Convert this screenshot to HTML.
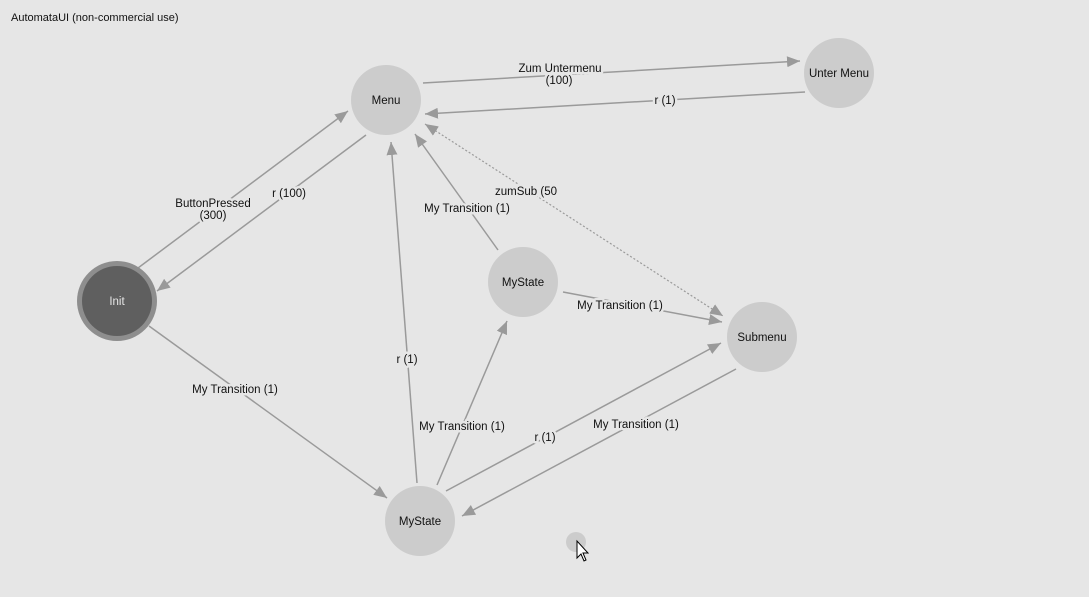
<!DOCTYPE html>
<html><head><meta charset="utf-8"><style>
html,body{margin:0;padding:0;background:#e6e6e6;}
svg{display:block;}
text{font-family:"Liberation Sans",sans-serif;font-size:11.5px;fill:#111;}
.lb{paint-order:stroke;stroke:#e6e6e6;stroke-width:5px;stroke-linejoin:round;}
line{stroke:#9a9a9a;stroke-width:1.5;}
</style></head><body>
<svg width="1089" height="597" viewBox="0 0 1089 597" xmlns="http://www.w3.org/2000/svg">
<defs>
<marker id="a" viewBox="0 0 13 11" refX="13" refY="5.5" markerWidth="13" markerHeight="11" markerUnits="userSpaceOnUse" orient="auto">
<path d="M0,0 L13,5.5 L0,11 z" fill="#9a9a9a"/></marker>
<marker id="as" viewBox="0 0 13 11" refX="13" refY="5.5" markerWidth="13" markerHeight="11" markerUnits="userSpaceOnUse" orient="auto-start-reverse">
<path d="M0,0 L13,5.5 L0,11 z" fill="#9a9a9a"/></marker>
</defs>
<rect width="1089" height="597" fill="#e6e6e6"/>
<text x="11" y="21" style="font-size:11px">AutomataUI (non-commercial use)</text>

<line x1="423" y1="83" x2="800" y2="61" marker-end="url(#a)"/>
<line x1="805" y1="92" x2="425" y2="114" marker-end="url(#a)"/>
<line x1="138" y1="268" x2="348" y2="111" marker-end="url(#a)"/>
<line x1="366" y1="135" x2="157" y2="291" marker-end="url(#a)"/>
<line x1="425" y1="124" x2="723" y2="316" marker-start="url(#as)" marker-end="url(#a)" style="stroke-dasharray:2,2;stroke-width:1.2"/>
<line x1="498" y1="250" x2="415" y2="134" marker-end="url(#a)"/>
<line x1="563" y1="292" x2="722" y2="322" marker-end="url(#a)"/>
<line x1="149" y1="326" x2="387" y2="498" marker-end="url(#a)"/>
<line x1="417" y1="483" x2="391" y2="142" marker-end="url(#a)"/>
<line x1="437" y1="485" x2="507" y2="321" marker-end="url(#a)"/>
<line x1="446" y1="491" x2="721" y2="343" marker-end="url(#a)"/>
<line x1="736" y1="369" x2="462" y2="516" marker-end="url(#a)"/>

<g text-anchor="middle">
<text class="lb" x="560" y="72">Zum Untermenu</text>
<text class="lb" x="559" y="84">(100)</text>
<text class="lb" x="665" y="104">r (1)</text>
<text class="lb" x="213" y="207">ButtonPressed</text>
<text class="lb" x="213" y="219">(300)</text>
<text class="lb" x="289" y="197">r (100)</text>
<text class="lb" x="526" y="195">zumSub (50</text>
<text class="lb" x="467" y="212">My Transition (1)</text>
<text class="lb" x="620" y="309">My Transition (1)</text>
<text class="lb" x="235" y="393">My Transition (1)</text>
<text class="lb" x="407" y="363">r (1)</text>
<text class="lb" x="462" y="430">My Transition (1)</text>
<text class="lb" x="545" y="441">r (1)</text>
<text class="lb" x="636" y="428">My Transition (1)</text>
</g>

<g fill="#cccccc">
<circle cx="386" cy="100" r="35"/>
<circle cx="839" cy="73" r="35"/>
<circle cx="523" cy="282" r="35"/>
<circle cx="762" cy="337" r="35"/>
<circle cx="420" cy="521" r="35"/>
<circle cx="576" cy="542" r="10"/>
</g>
<circle cx="117" cy="301" r="40" fill="#8e8e8e"/>
<circle cx="117" cy="301" r="35" fill="#5f5f5f"/>
<g text-anchor="middle">
<text x="386" y="104">Menu</text>
<text x="839" y="77">Unter Menu</text>
<text x="523" y="286">MyState</text>
<text x="762" y="341">Submenu</text>
<text x="420" y="525">MyState</text>
<text x="117" y="305" style="fill:#e6e6e6">Init</text>
</g>
<path d="M577,541 L577,558 L581,554 L584,561 L586,560 L583,553 L588,553 z" fill="#fff" stroke="#000" stroke-width="1"/>
</svg>
</body></html>
